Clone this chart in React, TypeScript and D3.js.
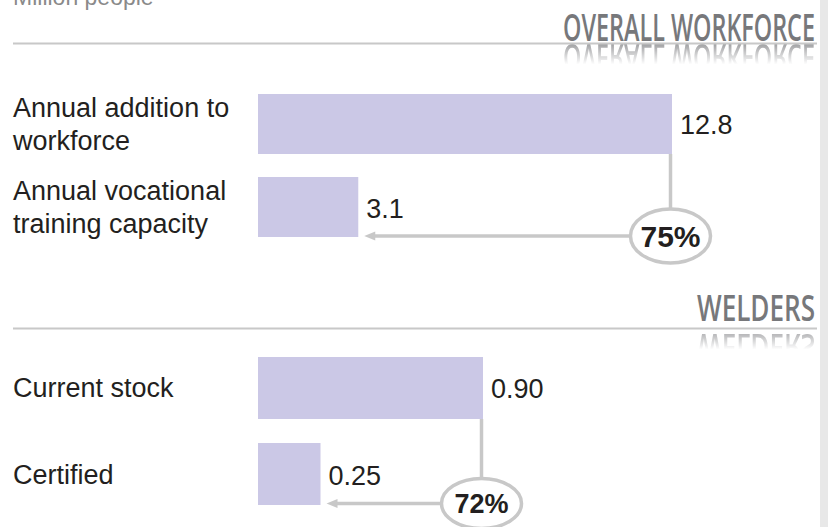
import React from "react";
import * as d3 from "d3";

// ---- data ----
const unitLabel = "Million people";
const panelTitles = ["OVERALL WORKFORCE", "WELDERS"];
const workforceLabels = [["Annual addition to", "workforce"], ["Annual vocational", "training capacity"]];
const workforceValues = [12.8, 3.1];
const welderLabels = [["Current stock"], ["Certified"]];
const welderValues = [0.9, 0.25];
const shareLabels = ["75%", "72%"];
const valueFormats = [".1f", ".2f"];

// ---- layout (styles) ----
const W = 828;
const H = 527;
const BAR_X0 = 258;
const BAR_COLOR = "#cbc8e6";
const GRAY = "#c8c8c8";
const TITLE_COLOR = "#77787b";
const TEXT = "#231f20";
const LABEL_FONT = "'Liberation Sans', Arial, Helvetica, sans-serif";
const TITLE_FONT = "'Open Sans', 'DejaVu Sans', sans-serif";

const layouts = [
  { lineY: 43.5, titleBase: 41, titleW: 252, titleSize: 38, band: [71, 260], pad: 0.277, xEnd: 672, pctSize: 30, rx: 40, ry: 27, cyOff: -1 },
  { lineY: 328.5, titleBase: 321, titleW: 118, titleSize: 36, band: [333, 529], pad: 0.279, xEnd: 483, pctSize: 27, rx: 40, ry: 25, cyOff: -1.5 },
];

function Panel({ idx, labels, values }: { idx: number; labels: string[][]; values: number[] }) {
  const L = layouts[idx];
  const ids = labels.map((_, i) => String(i));
  const y = d3.scaleBand<string>().domain(ids).range(L.band as [number, number]).padding(L.pad);
  const x = d3.scaleLinear().domain([0, d3.max(values) as number]).range([BAR_X0, L.xEnd]);
  const fmt = d3.format(valueFormats[idx]);
  const bw = y.bandwidth();
  const titleRight = 815;
  const mirror = L.lineY - 1;
  const maskId = `refl-mask-${idx}`;
  const gradId = `refl-grad-${idx}`;

  const b0 = y("0") as number;
  const b1 = y("1") as number;
  const lineX = x(values[0]) - 1.5;
  const arrowY = b1 + bw + L.cyOff;
  const cx = lineX;
  const cy = arrowY;
  const tipX = x(values[1]) + 6;

  const titleEl = (
    <text
      x={titleRight - L.titleW}
      y={L.titleBase}
      textLength={L.titleW}
      lengthAdjust="spacingAndGlyphs"
      fontFamily={TITLE_FONT}
      fontWeight={600}
      fontSize={L.titleSize}
      fill={TITLE_COLOR}
    >
      {panelTitles[idx]}
    </text>
  );

  return (
    <g>
      <defs>
        <linearGradient id={gradId} gradientUnits="userSpaceOnUse" x1="0" y1={mirror} x2="0" y2={mirror + 22}>
          <stop offset="0" stopColor="#fff" stopOpacity={0.75} />
          <stop offset="1" stopColor="#fff" stopOpacity={0} />
        </linearGradient>
        <mask id={maskId} maskUnits="userSpaceOnUse" x="0" y={mirror} width={W} height={24}>
          <rect x="0" y={mirror} width={W} height={24} fill={`url(#${gradId})`} />
        </mask>
      </defs>
      {titleEl}
      <g mask={`url(#${maskId})`}>
        <g transform={`translate(0,${2 * mirror}) scale(1,-1)`}>{titleEl}</g>
      </g>
      <line x1={13} x2={817} y1={L.lineY} y2={L.lineY} stroke={GRAY} strokeWidth={2} />

      {values.map((v, i) => {
        const yy = y(String(i)) as number;
        const lines = labels[i];
        const lh = 33;
        const mid = yy + bw / 2;
        const firstBase = mid + 9.5 - ((lines.length - 1) * lh) / 2;
        return (
          <g key={i}>
            <rect x={x(0)} y={yy} width={x(v) - x(0)} height={bw} fill={BAR_COLOR} />
            <text x={13} y={firstBase} fontFamily={LABEL_FONT} fontSize={27} fill={TEXT}>
              {lines.map((t, k) => (
                <tspan key={k} x={13} y={firstBase + k * lh}>
                  {t}
                </tspan>
              ))}
            </text>
            <text x={x(v) + 8} y={mid + 10.5} fontFamily={LABEL_FONT} fontSize={27} fill={TEXT}>
              {fmt(v)}
            </text>
          </g>
        );
      })}

      <line x1={lineX} x2={lineX} y1={b0 + bw} y2={cy - L.ry} stroke={GRAY} strokeWidth={3.5} />
      <line x1={cx - L.rx} x2={tipX + 10} y1={arrowY} y2={arrowY} stroke={GRAY} strokeWidth={3.5} />
      <polygon points={`${tipX},${arrowY} ${tipX + 11},${arrowY - 4.5} ${tipX + 11},${arrowY + 4.5}`} fill={GRAY} />
      <ellipse cx={cx} cy={cy} rx={L.rx} ry={L.ry} fill="#fff" stroke={GRAY} strokeWidth={3.5} />
      <text
        x={cx}
        y={cy + L.pctSize * 0.36}
        textAnchor="middle"
        fontFamily={LABEL_FONT}
        fontWeight={700}
        fontSize={L.pctSize}
        fill={TEXT}
      >
        {shareLabels[idx]}
      </text>
    </g>
  );
}

export default function App() {
  return (
    <svg
      width={W}
      height={H}
      viewBox={`0 0 ${W} ${H}`}
      style={{ position: "absolute", left: 0, top: 0, background: "#fff" }}
    >
      <rect x={0} y={0} width={W} height={H} fill="#fff" />
      <rect x={820} y={0} width={8} height={H} fill="#e8e8e8" />
      <text x={13} y={5} fontFamily={LABEL_FONT} fontSize={23} fill="#8a8a8a">
        {unitLabel}
      </text>
      <Panel idx={0} labels={workforceLabels} values={workforceValues} />
      <Panel idx={1} labels={welderLabels} values={welderValues} />
    </svg>
  );
}
